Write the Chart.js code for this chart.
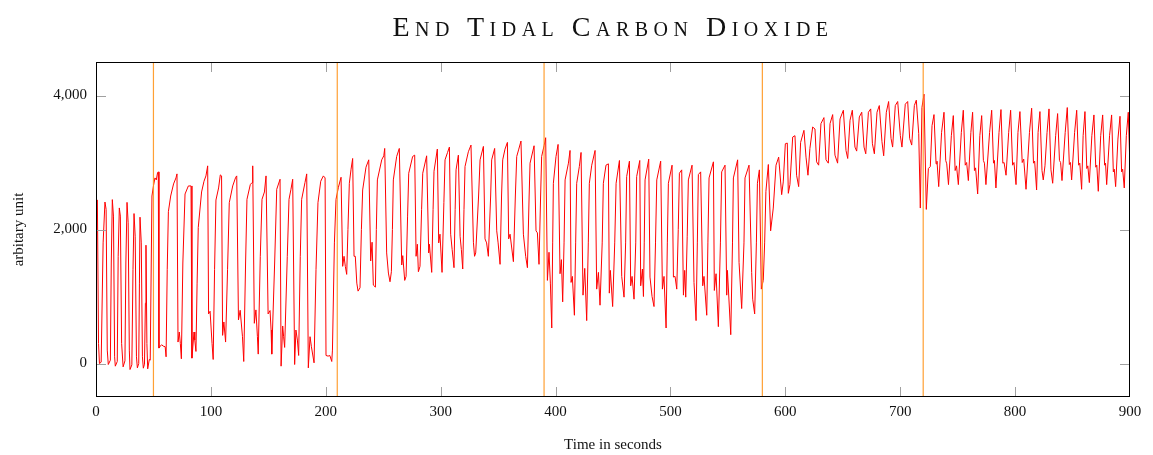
<!DOCTYPE html>
<html>
<head>
<meta charset="utf-8">
<script src="https://cdn.jsdelivr.net/npm/chart.js@4.4.1/dist/chart.umd.min.js"></script>
<style>
  body { margin: 0; background: #fff; }
  #wrap { position: relative; width: 1153px; height: 455px; }
  #title {
    position: absolute; left: 96px; width: 1034px; top: 9px;
    text-align: center; font-family: 'Liberation Serif', serif;
    font-size: 28px; line-height: 36px; font-variant: small-caps;
    letter-spacing: 5.5px; color: #111;
  }
</style>
</head>
<body>
<div id="wrap">
  <div id="title">End Tidal Carbon Dioxide</div>
  <canvas id="myChart" width="1153" height="455"></canvas>
</div>
<script>
// time (s), value pairs, split at the event markers
const seg0 = [[0,2460],[1.2,2440],[2.2,300],[3,0],[4.5,20],[6.2,1800],[7.8,2410],[8.8,2300],[9.8,200],[10.7,-15],[12.5,50],[13.3,1500],[14.2,2446],[15.2,2200],[16.2,100],[16.8,-40],[18.5,30],[19.3,1600],[20.3,2322],[21.2,2200],[22.3,300],[23.6,-50],[25.2,40],[26,1500],[27,2405],[28,2100],[29,200],[29.6,-90],[31.2,-20],[32.2,1400],[33.1,2238],[34.1,1900],[35.2,100],[36,-65],[37.2,0],[37.8,1200],[38.3,2184],[39.4,1800],[40.4,100],[41.2,-70],[42.2,-10],[43,900],[43.5,1766],[44.3,300],[45,-80],[46.4,60],[47.2,50]];
const seg1 = [[48.7,2500],[50,2650],[51.3,2770],[52.5,2740],[53.6,2850],[54.2,2860],[54.8,230],[56,260],[57.1,280],[58.5,260],[60.2,250],[61,100],[62,1400],[63,2266],[65,2500],[67.5,2680],[69.6,2770],[70.5,2830],[71.4,320],[72.5,470],[73.4,300],[74.3,70],[75.6,1500],[77.5,2530],[80.4,2650],[82.7,2650],[83.5,80],[85.3,470],[86,350],[87,180],[88,1200],[89,2030],[91.9,2560],[94,2720],[95.7,2800],[97.2,2950],[98,740],[99.3,780],[101,300],[102,60],[103.2,1400],[104.4,2440],[106.7,2620],[108.2,2815],[109.3,2800],[110.2,420],[111.3,620],[112.8,320],[114.5,1400],[116,2400],[119,2650],[121.6,2780],[122.5,2800],[124,650],[125.5,795],[127.5,400],[128.6,30],[130.2,1500],[131.4,2450],[134.3,2670],[135.8,2700],[136.4,2950],[137.8,600],[139.2,800],[140.5,400],[141.2,140],[143,1600],[144.5,2450],[146.6,2560],[148,2800],[149.8,740],[151.5,790],[152.4,500],[153,140],[155.5,1500],[157.3,2600],[160.2,2750],[161.1,-40],[162.5,560],[163.3,400],[164.2,240],[166.5,1600],[168,2450],[169.7,2600],[171.2,2750],[172.9,-15],[174,500],[175.3,350],[176.4,120],[177.8,1600],[179,2450],[181.9,2700],[183.4,2830],[184.8,-65],[186.3,400],[187.5,250],[189.8,10],[191.5,1400],[193.2,2400],[195.6,2720],[197.9,2800],[199.4,2770],[200.2,120],[202,110],[203.5,120],[205.2,30],[205.8,200],[207.5,1800],[208.9,2450]];
const seg2 = [[211,2630],[213.3,2780],[214.7,1450],[215.9,1600],[217,1450],[218.2,1330],[219.3,2000],[220.5,2690],[222,2900],[223.4,3060],[224.6,1600],[225.7,1600],[227,1200],[228.1,1080],[229.8,1130],[231,2000],[232.1,2590],[235,2930],[237.4,3040],[239.1,1530],[240.3,1810],[241.4,1170],[243.2,1140],[244,2000],[244.9,2740],[248.7,3040],[250.5,3100],[251.3,3210],[253,1650],[254.5,1350],[255.9,1220],[257.1,1370],[258,2000],[258.8,2740],[261.7,3090],[264,3210],[266.1,1470],[267,1610],[268.7,1240],[269.9,1300],[271.2,2200],[272.2,2840],[275.6,3090],[277.4,3110],[278.6,1600],[279.7,1780],[280.6,1370],[282,1450],[283.4,2300],[284.4,2840],[287.8,3100],[289.6,1650],[290.2,1780],[292.2,1360],[293.4,2300],[294.2,2870],[297.1,3200],[298.3,1800],[299.4,1930],[301.2,1360],[302.8,2400],[303.8,3040],[306,3150],[307.6,3230],[308.7,1930],[310,1700],[311.6,1430],[312.6,2300],[313.4,2890],[315.4,3110],[316.9,1900],[318,1700],[319.2,1410],[320.3,2300],[321.2,2940],[324.1,3160],[326.4,3260],[328.5,1810],[329.5,1600],[330.5,1650],[333,2500],[334.3,3040],[337.2,3240],[338.6,1860],[340,1800],[341.5,1600],[343.5,2500],[344.4,3040],[347,3210],[348.8,1980],[350,1800],[351.7,1480],[353,2500],[354,3040],[356,3200],[358.1,3300],[359.2,1860],[360.4,1930],[363.3,1520],[365,2500],[366.2,3090],[368,3200],[369.9,3320],[372,1930],[374,1600],[375.5,1430],[377,2500],[377.8,2990],[381.3,3250],[383,1980],[384.2,1950],[385.6,1480],[387,2500],[387.9,3090],[390,3250],[391.4,3370]];
const seg3 = [[392.9,1240],[394.3,1660],[395.5,1200],[396.7,530],[397.5,1800],[398.1,2690],[400.4,3090],[402.2,3270],[403.9,1340],[405.1,1550],[406.2,920],[407.4,1800],[408.3,2740],[411.2,2990],[412.6,3180],[413.5,1210],[414.6,1300],[416.4,720],[417.5,1800],[418.4,2690],[420.7,2940],[422.2,3150],[423.9,1020],[425.4,1420],[427.1,640],[428.5,1800],[429.4,2690],[431.5,2960],[434.4,3180],[435.8,1110],[437.3,1360],[438.7,870],[440.6,1800],[441.6,2690],[443.9,2960],[446,2980],[446.8,1050],[447.7,1390],[449.7,850],[451.5,1800],[452.7,2690],[455.6,3030],[457.6,1300],[459.6,990],[461,1800],[461.9,2790],[464.3,3020],[465.4,1160],[466.6,1300],[468.3,960],[469.8,1800],[470.6,2790],[473.3,3030],[474.1,1160],[475.6,1410],[476.5,1000],[477.2,1800],[477.9,2740],[481.1,3050],[482.2,1290],[484,1000],[485.7,850],[487,1800],[488.1,2740],[491.5,3020],[493,1110],[494.4,1300],[496.2,530],[497.3,1800],[498.2,2690],[501.4,2960],[502.6,1290],[504,1300],[505.5,1110],[506.8,2000],[507.8,2840],[509.8,2890],[511.3,1020],[512.4,1390],[513.3,990],[514.6,1900],[515.6,2740],[518.8,2960],[520.5,1210],[522.3,640],[523.4,1800],[524.3,2820],[526.3,2860],[528.1,1160],[529.2,1300],[531.6,720],[532.6,1800],[533.6,2770],[537.4,3010],[538.2,1090],[539.7,1340],[541.7,550],[543.5,1800],[544.6,2860],[547.5,2960],[549,1020],[549.6,1390],[552.5,430],[554,1800],[554.8,2770],[558.5,3040],[559.7,1510],[562,820],[564,1800],[564.9,2770],[568.4,2960],[570.7,1360],[571.6,960],[573.3,740],[574.8,1800],[575.7,2690],[577.4,2890],[579.1,1110],[580.8,1240]];
const seg4 = [[582,1800],[583.1,2570],[585.2,2970],[587.2,1980],[589.5,2320],[591.9,2960],[594.2,3080],[596.8,2520],[598.2,2710],[600,3280],[601.7,3290],[602.6,2540],[604,2670],[606.4,3380],[608.4,3400],[609.8,2810],[611.6,2640],[613.3,3300],[616.2,3480],[618,3080],[619.7,2810],[621.4,3210],[623.8,3530],[625.8,3500],[627.2,3010],[629,2960],[631,3580],[633.6,3670],[635.4,3040],[637.4,2990],[638.9,3580],[641.2,3715],[643.2,3110],[645.5,2990],[647.6,3650],[650.5,3780],[652.8,3180],[654.3,3060],[656.3,3630],[658.3,3780],[660.6,3230],[662.1,3170],[664.4,3680],[666.5,3750],[668.5,3230],[670,3130],[672.3,3750],[674.3,3800],[675.8,3280],[677.5,3130],[679.8,3750],[681.8,3850],[684.1,3310],[685.6,3100],[687.9,3750],[689.9,3910],[692,3360],[693.4,3230],[695.7,3850],[697.8,3910],[700.1,3400],[701.5,3230],[704.4,3870],[706.5,3910],[708.2,3360],[710,3260],[712.3,3850],[714,3930],[716.1,3430],[717.5,2320],[718.9,3820]];
const seg5 = [[720.7,4020],[722.7,2300],[724.5,2910],[726.2,2940],[727.7,3550],[729.4,3715],[731.2,2980],[732,3020],[733.5,2640],[736,3450],[738.1,3750],[739.6,3030],[740.5,2980],[742,2670],[744.5,3400],[746.2,3700],[747.8,2880],[749,2950],[750.6,2670],[753.2,3450],[754.9,3780],[756.6,2960],[757.8,3000],[759.3,2730],[761.5,3450],[763,3750],[764.6,2880],[765.6,2920],[767.4,2530],[769.3,3400],[770.9,3700],[772.4,3030],[773.3,2990],[774.6,2670],[777.8,3450],[779.6,3780],[781.2,2990],[782,3030],[783.3,2620],[786,3450],[787.7,3790],[789.3,2990],[790.4,3000],[792.1,2810],[794.4,3450],[796.1,3780],[797.8,2960],[799,3000],[800.8,2670],[802.5,3450],[804.2,3760],[806.2,3000],[807.5,3050],[809.5,2600],[812.5,3450],[814.4,3810],[816,2990],[817,3020],[818.7,2590],[820,3450],[821.6,3760],[823.4,2880],[824.5,2740],[826,2950],[827.8,3450],[829.5,3800],[831.2,2890],[832.7,2690],[835.3,3400],[837,3730],[838.6,3030],[839.6,3000],[840.8,2730],[843.6,3450],[845.4,3820],[847.2,2970],[848.2,3000],[849.2,2740],[851.8,3450],[853.6,3780],[855.3,2960],[856.3,2990],[857.9,2600],[859.2,3400],[860.8,3760],[862.4,2910],[863.3,2950],[864.6,2700],[866.8,3400],[868.6,3710],[870.2,2930],[871.1,2960],[872.4,2570],[874.5,3400],[876.2,3710],[877.9,2960],[878.7,2990],[879.7,2670],[882.2,3400],[884,3710],[885.5,2860],[886.3,2900],[887.5,2640],[889.5,3350],[891.3,3690],[892.7,2860],[893.6,2900],[895,2620],[896.8,3400],[898.5,3750],[900,2910]];

const markers = [50, 210, 390, 580, 720];
const xTicks = [0, 100, 200, 300, 400, 500, 600, 700, 800, 900];
const yTicks = [0, 2000, 4000];
const yMin = -500, yMax = 4500;

const signal = [].concat(seg0, seg1, seg2, seg3, seg4, seg5);

// pgfplots style: black frame, short grey ticks pointing inwards on all sides
const frameTicks = {
  id: 'frameTicks',
  afterDatasetsDraw(chart) {
    const {ctx, chartArea: a, scales: {x, y}} = chart;
    ctx.save();
    ctx.strokeStyle = '#a0a0a0';
    ctx.lineWidth = 1;
    ctx.beginPath();
    xTicks.forEach(v => {
      if (v === 0 || v === 900) return;
      const px = Math.round(x.getPixelForValue(v)) + 0.5;
      ctx.moveTo(px, a.bottom); ctx.lineTo(px, a.bottom - 10);
      ctx.moveTo(px, a.top); ctx.lineTo(px, a.top + 10);
    });
    yTicks.forEach(v => {
      const py = Math.round(y.getPixelForValue(v)) + 0.5;
      ctx.moveTo(a.left, py); ctx.lineTo(a.left + 10, py);
      ctx.moveTo(a.right, py); ctx.lineTo(a.right - 10, py);
    });
    ctx.stroke();
    ctx.strokeStyle = '#000';
    ctx.strokeRect(Math.round(a.left) + 0.5, Math.round(a.top) + 0.5, Math.round(a.width) - 1, Math.round(a.height) - 1);
    ctx.restore();
  }
};

const serif = "'Liberation Serif', serif";

new Chart(document.getElementById('myChart'), {
  type: 'line',
  data: {
    datasets: [
      {
        label: 'End tidal CO2',
        data: signal.map(([t, v]) => ({x: t, y: v})),
        borderColor: '#ff0000',
        borderWidth: 1,
        pointRadius: 0,
        tension: 0,
        order: 2
      },
      ...markers.map(m => ({
        label: 'event ' + m,
        data: [{x: m, y: yMin}, {x: m, y: yMax}],
        borderColor: 'rgba(255,150,30,0.9)',
        borderWidth: 1.2,
        pointRadius: 0,
        order: 1
      }))
    ]
  },
  options: {
    responsive: false,
    animation: false,
    layout: { padding: { left: 0, right: 23, top: 62, bottom: 0 } },
    plugins: { legend: { display: false }, tooltip: { enabled: false } },
    scales: {
      x: {
        type: 'linear', min: 0, max: 900,
        afterBuildTicks: s => { s.ticks = xTicks.map(v => ({value: v})); },
        afterFit: s => { s.height = 58; },
        grid: { display: false, drawTicks: false },
        border: { display: false },
        ticks: { padding: 6, color: '#111', font: { family: serif, size: 15 } },
        title: { display: true, text: 'Time in seconds', color: '#111', padding: { bottom: 1 }, font: { family: serif, size: 15 } }
      },
      y: {
        type: 'linear', min: yMin, max: yMax,
        afterBuildTicks: s => { s.ticks = yTicks.map(v => ({value: v})); },
        afterFit: s => { s.width = 96; },
        grid: { display: false, drawTicks: false },
        border: { display: false },
        ticks: { padding: 9, color: '#111', font: { family: serif, size: 15 },
                 callback: v => v.toLocaleString('en-US') },
        title: { display: true, text: 'arbitary unit', color: '#111', padding: { top: 10 }, font: { family: serif, size: 15 } }
      }
    }
  },
  plugins: [frameTicks]
});
</script>
</body>
</html>
